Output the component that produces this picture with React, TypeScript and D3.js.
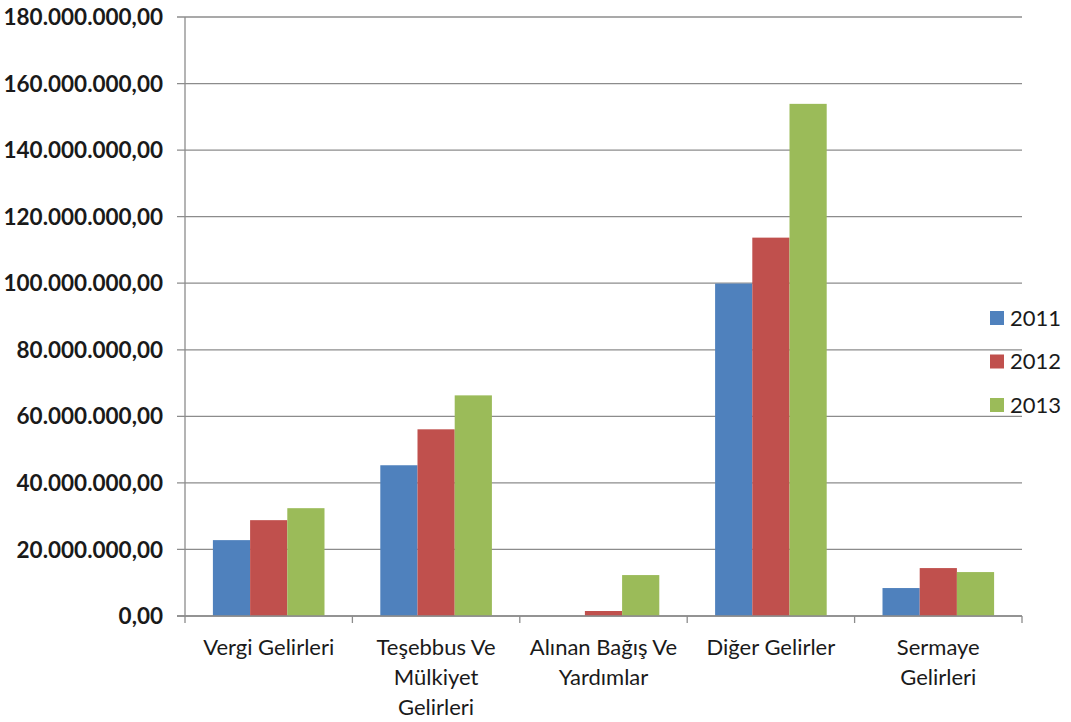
import { useEffect, useRef } from 'react';
import * as d3 from 'd3';

// chart data
const categories = ['Vergi Gelirleri', 'Teşebbus Ve Mülkiyet Gelirleri', 'Alınan Bağış Ve Yardımlar', 'Diğer Gelirler', 'Sermaye Gelirleri'];
const labelLines = [
    ['Vergi Gelirleri'],
    ['Teşebbus Ve', 'Mülkiyet', 'Gelirleri'],
    ['Alınan Bağış Ve', 'Yardımlar'],
    ['Diğer Gelirler'],
    ['Sermaye', 'Gelirleri'],
];
const years = ['2011', '2012', '2013'];
const values2011 = [22800000, 45300000, 0, 99900000, 8400000];
const values2012 = [28800000, 56100000, 1500000, 113700000, 14400000];
const values2013 = [32400000, 66300000, 12300000, 153900000, 13200000];
const yTicks = [0, 20e6, 40e6, 60e6, 80e6, 100e6, 120e6, 140e6, 160e6, 180e6];
const colors = ['#4F81BD', '#C0504D', '#9BBB59'];

export default function App() {
    const svgRef = useRef<SVGSVGElement>(null);

    useEffect(() => {
        document.body.style.margin = '0';
        const svg = d3.select(svgRef.current);
        svg.selectAll('*').remove();

        const width = 1071;
        const height = 722;
        const left = 185;
        const right = 1022;
        const top = 17;
        const bottom = 616;
        const font = 'Lato, "Open Sans", sans-serif';

        svg.attr('width', width).attr('height', height);

        const series = [values2011, values2012, values2013];
        const rows = categories.map((c, i) => ({
            category: c,
            lines: labelLines[i],
            values: years.map((y, j) => ({ year: y, value: series[j][i], color: colors[j] })),
        }));

        const x0 = d3.scaleBand().domain(categories).range([left, right]).padding(0);
        const x1 = d3.scaleBand().domain(years).range([0, x0.bandwidth()]).paddingInner(0).paddingOuter(0.75);
        const y = d3.scaleLinear().domain([0, 180e6]).range([bottom, top]);

        const trLocale = d3.formatLocale({ decimal: ',', thousands: '.', grouping: [3], currency: ['', ''] });
        const fmt = trLocale.format(',.2f');

        // gridlines + y ticks
        const grid = svg.append('g');
        grid.selectAll('line')
            .data(yTicks)
            .enter()
            .append('line')
            .attr('x1', left - 8)
            .attr('x2', right)
            .attr('y1', (d) => y(d))
            .attr('y2', (d) => y(d))
            .attr('stroke', '#8c8c8c')
            .attr('stroke-width', 1.3);

        svg.append('g')
            .selectAll('text')
            .data(yTicks)
            .enter()
            .append('text')
            .attr('x', 163)
            .attr('y', (d) => y(d))
            .attr('dy', '0.36em')
            .attr('text-anchor', 'end')
            .style('font-family', font)
            .style('font-size', '22.5px')
            .style('font-weight', 'bold')
            .style('fill', '#1a1a1a')
            .text((d) => fmt(d));

        // bars
        const groups = svg.append('g')
            .selectAll('g')
            .data(rows)
            .enter()
            .append('g')
            .attr('transform', (d) => `translate(${x0(d.category)},0)`);

        groups.selectAll('rect')
            .data((d) => d.values)
            .enter()
            .append('rect')
            .attr('x', (d) => x1(d.year)!)
            .attr('y', (d) => y(d.value))
            .attr('width', x1.bandwidth())
            .attr('height', (d) => bottom - y(d.value))
            .attr('fill', (d) => d.color);

        // axes lines
        svg.append('line')
            .attr('x1', left).attr('x2', left)
            .attr('y1', top).attr('y2', bottom)
            .attr('stroke', '#8c8c8c').attr('stroke-width', 1.3);
        svg.append('line')
            .attr('x1', left - 8).attr('x2', right)
            .attr('y1', bottom).attr('y2', bottom)
            .attr('stroke', '#8c8c8c').attr('stroke-width', 1.3);

        const bounds = categories.map((c) => x0(c)!).concat([right]);
        svg.append('g')
            .selectAll('line')
            .data(bounds)
            .enter()
            .append('line')
            .attr('x1', (d) => d).attr('x2', (d) => d)
            .attr('y1', bottom).attr('y2', bottom + 7)
            .attr('stroke', '#8c8c8c').attr('stroke-width', 1.3);

        // category labels
        const labels = svg.append('g')
            .selectAll('text')
            .data(rows)
            .enter()
            .append('text')
            .attr('text-anchor', 'middle')
            .style('font-family', font)
            .style('font-size', '22px')
            .style('fill', '#1a1a1a');

        labels.selectAll('tspan')
            .data((d) => d.lines.map((l) => ({ l, cx: x0(d.category)! + x0.bandwidth() / 2 })))
            .enter()
            .append('tspan')
            .attr('x', (d) => d.cx)
            .attr('y', (d, i) => 647 + i * 30)
            .attr('dy', '0.36em')
            .text((d) => d.l);

        // legend
        const legend = svg.append('g').attr('transform', 'translate(990, 318)');
        years.forEach((yr, i) => {
            const row = legend.append('g').attr('transform', `translate(0, ${i * 43.5})`);
            row.append('rect')
                .attr('x', 0)
                .attr('y', -7)
                .attr('width', 14)
                .attr('height', 14)
                .attr('fill', colors[i]);
            row.append('text')
                .attr('x', 20)
                .attr('y', 0)
                .attr('dy', '0.36em')
                .style('font-family', font)
                .style('font-size', '22px')
                .style('fill', '#1a1a1a')
                .text(yr);
        });
    }, []);

    return <svg ref={svgRef} style={{ display: 'block' }}></svg>;
}
